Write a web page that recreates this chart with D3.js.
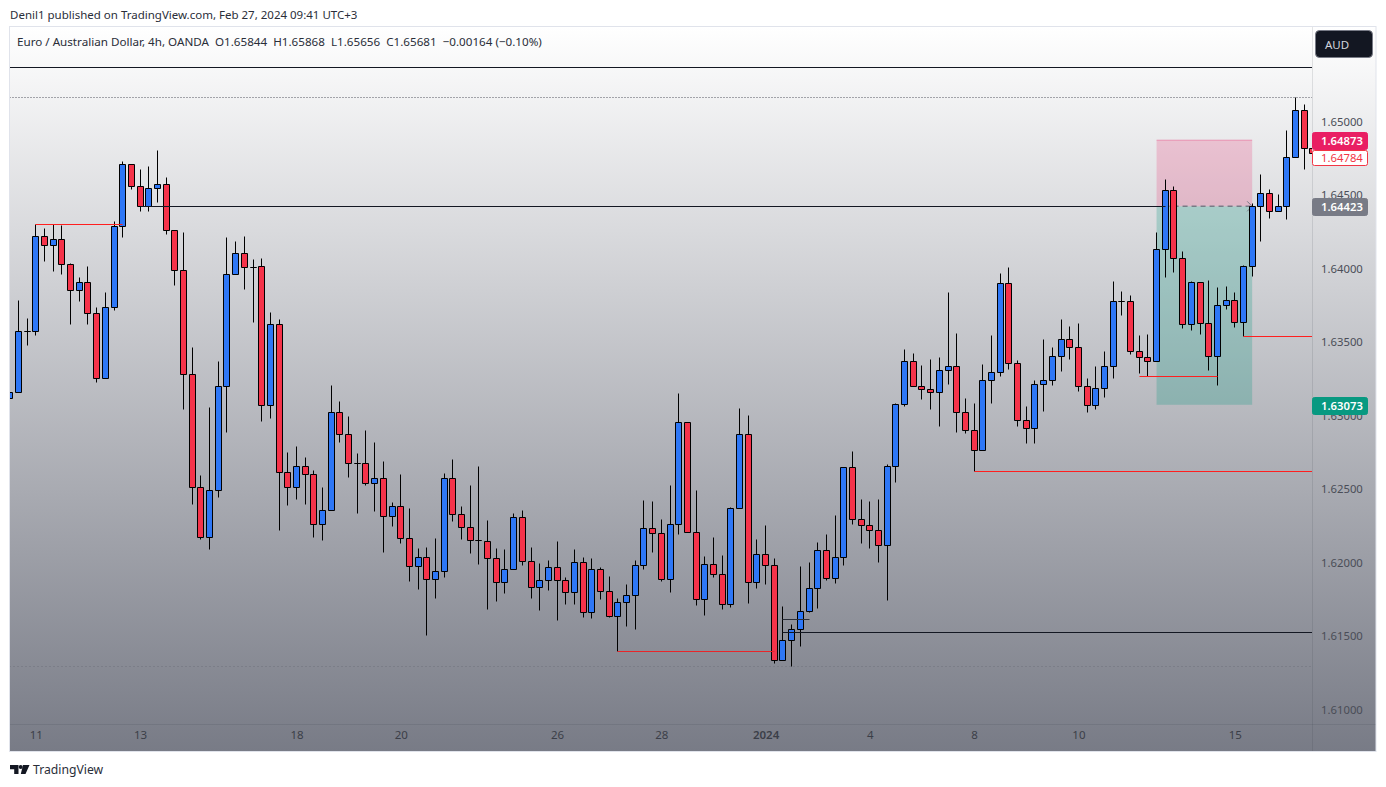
<!DOCTYPE html>
<html>
<head>
<meta charset="utf-8">
<script src="https://cdn.jsdelivr.net/npm/d3@7"></script>
<style>
  html, body { margin: 0; padding: 0; background: #fff; }
  svg { display: block; }
  text { font-family: "Noto Sans", sans-serif; }
</style>
</head>
<body>
<div id="chart"></div>
<script>
// EUR/AUD 4h candles, oldest first
const opens = [
  1.63116,1.63156,1.63571,1.63571,1.64218,1.64156,1.64197,1.64027,1.63850,1.63905,
  1.63694,1.63252,1.63735,1.64286,1.64708,1.64558,1.64422,1.64544,1.64571,1.64259,
  1.63986,1.63279,1.62510,1.62170,1.62490,1.63197,1.63959,1.64102,1.64007,1.64014,
  1.63068,1.63619,1.62612,1.62510,1.62653,1.62599,1.62259,1.62354,1.63020,1.62871,
  1.62673,1.62673,1.62537,1.62571,1.62313,1.62381,1.62163,1.61973,1.62034,1.61884,
  1.61939,1.62571,1.62327,1.62238,1.62150,1.62143,1.62027,1.61864,1.61952,1.62306,
  1.62007,1.61830,1.61878,1.61966,1.61878,1.61796,1.62000,1.61660,1.61952,1.61803,
  1.61633,1.61728,1.61776,1.61980,1.62231,1.62197,1.61884,1.62259,1.62952,1.62204,
  1.61748,1.61986,1.61918,1.61714,1.62367,1.62871,1.61864,1.62054,1.61980,1.61333,
  1.61469,1.61544,1.61667,1.61823,1.62082,1.61891,1.62034,1.62646,1.62293,1.62252,
  1.62218,1.62116,1.62653,1.63075,1.63367,1.63197,1.63177,1.63156,1.63306,1.63333,
  1.63020,1.62898,1.62762,1.63238,1.63293,1.63898,1.63354,1.62966,1.62912,1.63211,
  1.63238,1.63401,1.63517,1.63463,1.63197,1.63068,1.63184,1.63333,1.63776,1.63776,
  1.63435,1.63395,1.63367,1.64129,1.64531,1.64068,1.63619,1.63905,1.63626,1.63401,
  1.63748,1.63782,1.63633,1.64014,1.64422,1.64510,1.64388,1.64422,1.64755,1.65075,
  1.64816
];
const closes = [
  1.63156,1.63571,1.63571,1.64218,1.64156,1.64197,1.64027,1.63850,1.63905,1.63694,
  1.63252,1.63735,1.64286,1.64708,1.64558,1.64422,1.64544,1.64571,1.64259,1.63986,
  1.63279,1.62510,1.62170,1.62490,1.63197,1.63959,1.64102,1.64007,1.64007,1.63068,
  1.63619,1.62612,1.62510,1.62653,1.62599,1.62259,1.62354,1.63020,1.62871,1.62673,
  1.62673,1.62537,1.62571,1.62313,1.62381,1.62163,1.61973,1.62034,1.61884,1.61939,
  1.62571,1.62327,1.62238,1.62150,1.62150,1.62027,1.61864,1.61952,1.62306,1.62007,
  1.61830,1.61878,1.61966,1.61878,1.61796,1.62000,1.61660,1.61952,1.61803,1.61633,
  1.61728,1.61776,1.61980,1.62231,1.62197,1.61884,1.62259,1.62952,1.62204,1.61748,
  1.61986,1.61918,1.61714,1.62367,1.62871,1.61864,1.62054,1.61980,1.61333,1.61469,
  1.61544,1.61667,1.61823,1.62082,1.61891,1.62034,1.62646,1.62293,1.62252,1.62218,
  1.62116,1.62653,1.63075,1.63367,1.63197,1.63177,1.63156,1.63306,1.63333,1.63020,
  1.62898,1.62762,1.63238,1.63293,1.63898,1.63354,1.62966,1.62912,1.63211,1.63238,
  1.63401,1.63517,1.63463,1.63197,1.63068,1.63184,1.63333,1.63776,1.63776,1.63435,
  1.63395,1.63367,1.64129,1.64531,1.64068,1.63619,1.63905,1.63626,1.63401,1.63748,
  1.63782,1.63633,1.64014,1.64422,1.64510,1.64388,1.64422,1.64755,1.65075,1.64816,
  1.64782
];
const highs = [
  1.63156,1.63782,1.63660,1.64299,1.64272,1.64299,1.64292,1.64034,1.63939,1.64014,
  1.63735,1.63837,1.64320,1.64728,1.64708,1.64673,1.64694,1.64803,1.64619,1.64259,
  1.64245,1.63463,1.62592,1.63054,1.63367,1.64211,1.64184,1.64218,1.64061,1.64068,
  1.63701,1.63653,1.62748,1.62789,1.62714,1.62626,1.62510,1.63204,1.63095,1.62993,
  1.62742,1.62898,1.62816,1.62687,1.62408,1.62599,1.62367,1.62095,1.62102,1.62163,
  1.62605,1.62701,1.62381,1.62524,1.62653,1.62286,1.62095,1.62088,1.62333,1.62354,
  1.62102,1.61993,1.62014,1.62143,1.61898,1.62088,1.62034,1.62027,1.61966,1.61905,
  1.61755,1.61850,1.62014,1.62422,1.62415,1.62293,1.62524,1.63150,1.62952,1.62490,
  1.62041,1.62170,1.62048,1.62374,1.63048,1.63000,1.62156,1.62252,1.62027,1.61701,
  1.61578,1.61973,1.62000,1.62136,1.62191,1.62320,1.62646,1.62755,1.62429,1.62415,
  1.62429,1.62667,1.63082,1.63449,1.63422,1.63340,1.63381,1.63395,1.63837,1.63558,
  1.63116,1.63082,1.63347,1.63544,1.63966,1.64007,1.63374,1.63061,1.63238,1.63517,
  1.63463,1.63653,1.63605,1.63626,1.63252,1.63333,1.63435,1.63912,1.63844,1.63816,
  1.63544,1.63551,1.64245,1.64605,1.64558,1.64116,1.63912,1.63905,1.63918,1.63871,
  1.63878,1.63837,1.64020,1.64442,1.64639,1.64537,1.64503,1.64939,1.65163,1.65116,
  1.64816
];
const lows = [
  1.63116,1.63156,1.63476,1.63544,1.64048,1.63980,1.63959,1.63619,1.63776,1.63619,
  1.63225,1.63252,1.63714,1.64211,1.64537,1.64388,1.64388,1.64449,1.64231,1.63884,
  1.63041,1.62395,1.62156,1.62088,1.62442,1.62884,1.63959,1.63857,1.63633,1.62959,
  1.62980,1.62218,1.62388,1.62429,1.62395,1.62170,1.62150,1.62354,1.62816,1.62578,
  1.62333,1.62524,1.62347,1.62068,1.62245,1.62129,1.61871,1.61816,1.61503,1.61755,
  1.61898,1.62279,1.62156,1.62061,1.61986,1.61680,1.61735,1.61789,1.61952,1.61980,
  1.61755,1.61673,1.61810,1.61605,1.61714,1.61714,1.61626,1.61619,1.61748,1.61626,
  1.61395,1.61565,1.61544,1.61952,1.62068,1.61871,1.61796,1.62191,1.62204,1.61707,
  1.61639,1.61898,1.61680,1.61694,1.62367,1.61721,1.61823,1.61850,1.61313,1.61333,
  1.61293,1.61429,1.61660,1.61687,1.61878,1.61857,1.61980,1.62259,1.62129,1.62095,
  1.62000,1.61742,1.62544,1.63061,1.63197,1.63109,1.63041,1.62925,1.63211,1.62884,
  1.62878,1.62619,1.62762,1.63082,1.63265,1.63313,1.62925,1.62810,1.62810,1.63027,
  1.63204,1.63299,1.63381,1.63163,1.63020,1.63041,1.63122,1.63252,1.63680,1.63415,
  1.63286,1.63265,1.63367,1.63939,1.63973,1.63592,1.63578,1.63551,1.63306,1.63204,
  1.63721,1.63599,1.63537,1.63946,1.64184,1.64340,1.64388,1.64333,1.64755,1.64673,
  1.64782
];

const priceTicks = [1.65, 1.645, 1.64, 1.635, 1.63, 1.625, 1.62, 1.615, 1.61];
const dateTickIndex = [3, 15, 33, 45, 63, 75, 87, 99, 111, 123, 141];
const dateTickLabels = ["11", "13", "18", "20", "26", "28", "2024", "4", "8", "10", "15"];

// levels drawn on the chart: price, first candle, last candle, colour
const levelPrices = [1.65367, 1.65163, 1.64422, 1.64299, 1.63537, 1.63265, 1.62619, 1.61612, 1.61524, 1.61395, 1.61293];
const levelStarts = [0, 0, 15, 3, 142, 130, 111, 89, 89, 70, 0];
const levelEnds = [152, 152, 133, 13, 152, 139, 152, 92, 152, 88, 152];
const levelColors = ["#131722", "#363a45", "#131722", "#ff1f1f", "#ff1f1f", "#ff1f1f", "#ff1f1f", "#2a2e39", "#131722", "#e8262a", "#4a4d57"];
const levelDash = ["none", "1,2", "none", "none", "none", "none", "none", "none", "none", "none", "1,3"];
const levelOpacity = [1, 0.85, 1, 1, 1, 1, 1, 1, 1, 1, 0.4];

// short position box
const boxStop = 1.64873, boxEntry = 1.64423, boxTarget = 1.63073;
const boxFrom = 132, boxTo = 143;

const width = 1386, height = 787;
const frame = { left: 10, top: 27, right: 1375.5, bottom: 751 };
const plotRight = 1312, plotBottom = 724;

const svg = d3.select("#chart").append("svg")
  .attr("width", width)
  .attr("height", height);

const defs = svg.append("defs");
const grad = defs.append("linearGradient")
  .attr("id", "bg").attr("x1", 0).attr("y1", 0).attr("x2", 0).attr("y2", 1);
grad.append("stop").attr("offset", "0%").attr("stop-color", "#ffffff");
grad.append("stop").attr("offset", "100%").attr("stop-color", "#787b86");
defs.append("clipPath").attr("id", "plot").append("rect")
  .attr("x", frame.left).attr("y", frame.top)
  .attr("width", plotRight - frame.left).attr("height", plotBottom - frame.top);

svg.append("text")
  .attr("x", 10).attr("y", 19)
  .attr("font-size", 11.5).attr("fill", "#2a2e39")
  .text("Denil1 published on TradingView.com, Feb 27, 2024 09:41 UTC+3");

svg.append("rect")
  .attr("x", frame.left - 0.5).attr("y", frame.top - 0.5)
  .attr("width", frame.right - frame.left + 1).attr("height", frame.bottom - frame.top + 1)
  .attr("fill", "url(#bg)")
  .attr("stroke", "#e0e3eb");

// bar index -> pixel, first entry is the cut off candle at the left edge
const x = d3.scaleLinear().domain([0, 149]).range([9.76, 1304.27]);
const y = d3.scaleLinear().domain([1.61, 1.65]).range([709.5, 121.5]);
const px = i => Math.floor(x(i)) + 0.5;
const py = p => Math.floor(y(p)) + 0.5;

const candles = d3.range(opens.length).map(i => ({
  i, open: opens[i], high: highs[i], low: lows[i], close: closes[i]
}));

const plot = svg.append("g").attr("clip-path", "url(#plot)");

// position box sits under the candles
plot.append("rect")
  .attr("x", x(boxFrom)).attr("width", x(boxTo) - x(boxFrom))
  .attr("y", y(boxStop)).attr("height", y(boxEntry) - y(boxStop))
  .attr("fill", "#e91e63").attr("fill-opacity", 0.2);
plot.append("rect")
  .attr("x", x(boxFrom)).attr("width", x(boxTo) - x(boxFrom))
  .attr("y", y(boxEntry)).attr("height", y(boxTarget) - y(boxEntry))
  .attr("fill", "#089981").attr("fill-opacity", 0.25);
plot.append("line")
  .attr("x1", x(boxFrom)).attr("x2", x(boxTo))
  .attr("y1", y(boxStop)).attr("y2", y(boxStop))
  .attr("stroke", "#e91e63").attr("stroke-opacity", 0.35);
plot.append("line")
  .attr("x1", x(boxFrom) + 8).attr("x2", x(boxTo) - 2)
  .attr("y1", y(boxEntry)).attr("y2", y(boxEntry))
  .attr("stroke", "#787b86").attr("stroke-width", 1.5).attr("stroke-dasharray", "5,4");
plot.append("path")
  .attr("d", d3.line()([[x(boxTo) - 5, y(boxEntry) - 5], [x(boxTo), y(boxEntry)], [x(boxTo) - 5, y(boxEntry) + 5]]))
  .attr("fill", "none").attr("stroke", "#787b86");

const bars = plot.selectAll("g.candle").data(candles).enter()
  .append("g").attr("class", "candle");

bars.append("line")
  .attr("x1", d => px(d.i)).attr("x2", d => px(d.i))
  .attr("y1", d => py(d.high)).attr("y2", d => py(d.low))
  .attr("stroke", "#000");

bars.append("path")
  .attr("d", d => {
    const p = d3.path();
    const top = py(Math.max(d.open, d.close)), bot = py(Math.min(d.open, d.close));
    p.moveTo(px(d.i) - 3, top);
    p.lineTo(px(d.i) + 3, top);
    p.lineTo(px(d.i) + 3, bot);
    p.lineTo(px(d.i) - 3, bot);
    p.closePath();
    return p.toString();
  })
  .attr("fill", d => d.close >= d.open ? "#2e77f6" : "#f5334a")
  .attr("stroke", "#000");

plot.selectAll("line.level").data(levelPrices).enter()
  .append("line").attr("class", "level")
  .attr("x1", (d, i) => px(levelStarts[i])).attr("x2", (d, i) => px(levelEnds[i]))
  .attr("y1", d => py(d)).attr("y2", d => py(d))
  .attr("stroke", (d, i) => levelColors[i])
  .attr("stroke-opacity", (d, i) => levelOpacity[i])
  .attr("stroke-dasharray", (d, i) => levelDash[i]);

// axis separators
svg.append("line")
  .attr("x1", plotRight + 0.5).attr("x2", plotRight + 0.5)
  .attr("y1", frame.top).attr("y2", frame.bottom)
  .attr("stroke", "#2a2e39").attr("stroke-opacity", 0.12);
svg.append("line")
  .attr("x1", frame.left).attr("x2", frame.right)
  .attr("y1", plotBottom + 0.5).attr("y2", plotBottom + 0.5)
  .attr("stroke", "#2a2e39").attr("stroke-opacity", 0.12);

const yAxis = svg.append("g")
  .attr("transform", `translate(${plotRight},0)`)
  .call(d3.axisRight(y).tickValues(priceTicks).tickSize(0).tickPadding(9).tickFormat(d3.format(".5f")));
yAxis.select(".domain").remove();
yAxis.selectAll("text").attr("font-size", 11.3).attr("fill", "#4a4d57").style("font-family", '"Noto Sans", sans-serif');

const xAxis = svg.append("g")
  .attr("transform", `translate(0,${plotBottom})`)
  .call(d3.axisBottom(x).tickValues(dateTickIndex).tickSize(0).tickPadding(7)
    .tickFormat(i => dateTickLabels[dateTickIndex.indexOf(i)]));
xAxis.select(".domain").remove();
xAxis.selectAll("text").attr("font-size", 11.5).attr("fill", "#3b3e48").style("font-family", '"Noto Sans", sans-serif')
  .attr("font-weight", (d, i) => dateTickLabels[i] === "2024" ? 600 : 400);

// price tags on the axis
const tagPrices = [1.64873, 1.64784, 1.64423, 1.63073];
const tagFills = ["#e91e63", "#ffffff", "#787b86", "#089981"];
const tagStrokes = ["#e91e63", "#f23645", "#787b86", "#089981"];
const tagTexts = ["#ffffff", "#f23645", "#ffffff", "#ffffff"];
const tagOffsets = [0, 5, 0, 0];
const tagHeights = [17, 15, 17, 17];
tagPrices.forEach((p, i) => {
  const top = Math.round(y(p) + tagOffsets[i]) - 7.5;
  svg.append("rect")
    .attr("x", plotRight + 0.5).attr("y", top)
    .attr("width", 55).attr("height", tagHeights[i]).attr("rx", 2)
    .attr("fill", tagFills[i]).attr("stroke", tagStrokes[i]);
  svg.append("text")
    .attr("x", plotRight + 9).attr("y", top + tagHeights[i] / 2 + 4)
    .attr("font-size", 11.3).attr("font-weight", i === 1 ? 400 : 600)
    .attr("fill", tagTexts[i])
    .text(d3.format(".5f")(p));
});

// currency button
svg.append("rect")
  .attr("x", 1315.5).attr("y", 30.5).attr("width", 57).attr("height", 27).attr("rx", 4)
  .attr("fill", "#131722").attr("stroke", "#787b86");
svg.append("text")
  .attr("x", 1325).attr("y", 49)
  .attr("font-size", 11.5).attr("fill", "#d1d4dc")
  .text("AUD");

svg.append("text")
  .attr("x", 17).attr("y", 46)
  .attr("font-size", 11.65).attr("fill", "#2a2e39")
  .attr("xml:space", "preserve")
  .text("Euro / Australian Dollar, 4h, OANDA  O1.65844  H1.65868  L1.65656  C1.65681  \u22120.00164 (\u22120.10%)");

// TradingView mark and name
svg.append("path")
  .attr("d", "M10 765H18.5V774H14.2V769.2H10ZM23 765H29.5L25.5 774H20.8Z")
  .attr("fill", "#131722");
svg.append("circle").attr("cx", 20.7).attr("cy", 767).attr("r", 2).attr("fill", "#131722");
svg.append("text")
  .attr("x", 33).attr("y", 774)
  .attr("font-size", 12.2).attr("fill", "#2a2e39")
  .text("TradingView");
</script>
</body>
</html>
